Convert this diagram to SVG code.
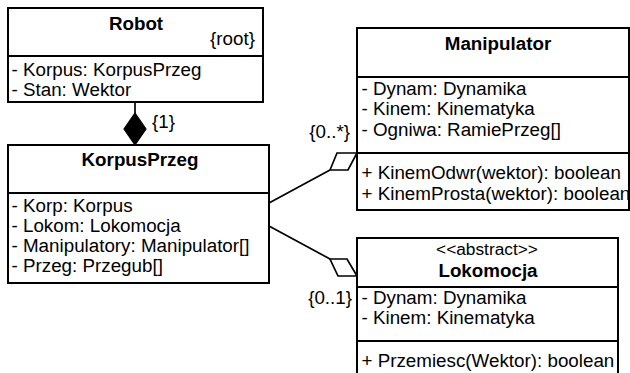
<svg xmlns="http://www.w3.org/2000/svg" width="630" height="373" viewBox="0 0 630 373">
  <style>
    .box { fill: #ffffff; stroke: #000000; stroke-width: 2; }
    .sep { stroke: #000000; stroke-width: 2; }
    .link { fill: none; stroke: #000000; stroke-width: 1.7; }
    .agg { fill: #ffffff; stroke: #000000; stroke-width: 1.7; stroke-linejoin: miter; }
    .comp { fill: #000000; stroke: #000000; stroke-width: 1.2; }
    text { font-family: "Liberation Sans", Arial, sans-serif; font-size: 18.8px; fill: #000000; }
    .title { font-weight: bold; text-anchor: middle; }
    .stereo { font-size: 17.3px; text-anchor: middle; }
    .end { text-anchor: end; }
  </style>

  <rect width="630" height="373" fill="#ffffff"/>

  <!-- associations -->
  <g id="connectors">
    <!-- Robot composes KorpusPrzeg -->
    <line class="link" x1="135" y1="102" x2="135" y2="113"/>
    <polygon class="comp" points="135,113 146,129 135,145 124,129"/>
    <text x="152" y="128">{1}</text>

    <!-- KorpusPrzeg aggregates Manipulator -->
    <line class="link" x1="269" y1="203" x2="330" y2="170"/>
    <polygon class="agg" points="330,170 337,153 357,153 348,170"/>
    <text class="end" x="350" y="138">{0..*}</text>

    <!-- KorpusPrzeg aggregates Lokomocja -->
    <line class="link" x1="269" y1="226" x2="330" y2="259"/>
    <polygon class="agg" points="330,259 347,259 357,276 338,276"/>
    <text class="end" x="352" y="304">{0..1}</text>
  </g>

  <g id="robot">
    <rect class="box" x="8" y="8" width="255" height="94"/>
    <line class="sep" x1="8" y1="56" x2="263" y2="56"/>
    <text class="title" x="136" y="30">Robot</text>
    <text class="end" x="255" y="45">{root}</text>
    <text x="11.5" y="76">- Korpus: KorpusPrzeg</text>
    <text x="11.5" y="96">- Stan: Wektor</text>
  </g>

  <g id="korpusprzeg">
    <rect class="box" x="8" y="145" width="261" height="138"/>
    <line class="sep" x1="8" y1="193" x2="269" y2="193"/>
    <text class="title" x="140" y="166">KorpusPrzeg</text>
    <text x="11.5" y="212">- Korp: Korpus</text>
    <text x="11.5" y="232">- Lokom: Lokomocja</text>
    <text x="11.5" y="252">- Manipulatory: Manipulator[]</text>
    <text x="11.5" y="272">- Przeg: Przegub[]</text>
  </g>

  <g id="manipulator">
    <rect class="box" x="357" y="28" width="272" height="182"/>
    <line class="sep" x1="357" y1="77" x2="629" y2="77"/>
    <line class="sep" x1="357" y1="153" x2="629" y2="153"/>
    <text class="title" x="498" y="50">Manipulator</text>
    <text x="361.5" y="95">- Dynam: Dynamika</text>
    <text x="361.5" y="115">- Kinem: Kinematyka</text>
    <text x="361.5" y="136">- Ogniwa: RamiePrzeg[]</text>
    <text x="361.5" y="179">+ KinemOdwr(wektor): boolean</text>
    <text x="361.5" y="200">+ KinemProsta(wektor): boolean</text>
  </g>

  <g id="lokomocja">
    <rect class="box" x="357" y="238" width="261" height="150"/>
    <line class="sep" x1="357" y1="287" x2="618" y2="287"/>
    <line class="sep" x1="357" y1="341" x2="618" y2="341"/>
    <text class="stereo" x="487" y="255">&lt;&lt;abstract&gt;&gt;</text>
    <text class="title" x="488" y="277">Lokomocja</text>
    <text x="361.5" y="304">- Dynam: Dynamika</text>
    <text x="361.5" y="324">- Kinem: Kinematyka</text>
    <text x="361.5" y="367">+ Przemiesc(Wektor): boolean</text>
  </g>
</svg>
